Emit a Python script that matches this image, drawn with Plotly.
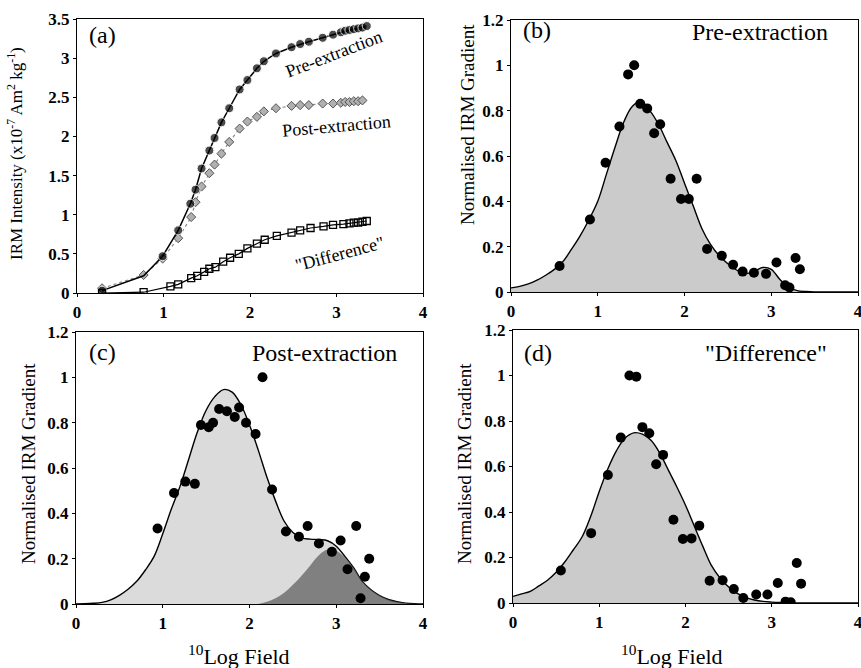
import plotly.graph_objects as go

# ---------------- data ----------------
# Panel (a): IRM acquisition curves
pre_x = [0.29, 0.77, 0.99, 1.17, 1.31, 1.37, 1.44, 1.53, 1.59, 1.67, 1.76, 1.88, 1.97, 2.08, 2.16,
         2.30, 2.48, 2.58, 2.68, 2.84, 2.96, 3.05, 3.10, 3.15, 3.20, 3.25, 3.30, 3.35]
pre_y = [0.03, 0.22, 0.47, 0.80, 1.14, 1.32, 1.59, 1.82, 1.98, 2.18, 2.36, 2.60, 2.72, 2.87, 2.96,
         3.06, 3.14, 3.18, 3.21, 3.26, 3.30, 3.33, 3.35, 3.36, 3.37, 3.38, 3.39, 3.41]
post_x = [0.29, 0.77, 0.99, 1.17, 1.32, 1.37, 1.44, 1.53, 1.59, 1.67, 1.76, 1.88, 1.97, 2.08,
          2.16, 2.30, 2.48, 2.58, 2.68, 2.84, 2.96, 3.05, 3.10, 3.15, 3.20, 3.25, 3.30]
post_y = [0.06, 0.23, 0.44, 0.70, 0.97, 1.16, 1.36, 1.53, 1.64, 1.78, 1.93, 2.10, 2.19, 2.25,
          2.32, 2.36, 2.39, 2.40, 2.40, 2.42, 2.42, 2.43, 2.44, 2.44, 2.45, 2.45, 2.46]
diff_x = [0.29, 0.77, 1.08, 1.17, 1.32, 1.39, 1.47, 1.53, 1.60, 1.69, 1.77, 1.87, 1.97, 2.08,
          2.17, 2.31, 2.48, 2.58, 2.70, 2.85, 2.96, 3.08, 3.15, 3.20, 3.25, 3.30, 3.35]
diff_y = [0.00, 0.01, 0.085, 0.11, 0.19, 0.22, 0.27, 0.31, 0.33, 0.40, 0.45, 0.50, 0.57, 0.63,
          0.68, 0.73, 0.77, 0.80, 0.83, 0.85, 0.87, 0.88, 0.89, 0.90, 0.90, 0.91, 0.92]

# Common grid for the fitted curves (log field)
fit_x = [0.0, 0.1, 0.2, 0.3, 0.4, 0.5, 0.6, 0.7, 0.8, 0.9, 1.0, 1.1, 1.2, 1.3, 1.4, 1.5, 1.6,
         1.7, 1.8, 1.9, 2.0, 2.1, 2.2, 2.3, 2.4, 2.5, 2.6, 2.7, 2.8, 2.9, 3.0, 3.1, 3.2, 3.3,
         3.4, 3.5, 3.6, 3.7, 3.8, 3.9, 4.0]

# Panel (b): pre-extraction gradient
b_pts_x = [0.56, 0.91, 1.09, 1.25, 1.35, 1.42, 1.49, 1.57, 1.65, 1.72, 1.84, 1.96, 2.05, 2.14,
           2.26, 2.43, 2.56, 2.67, 2.80, 2.94, 3.06, 3.16, 3.21, 3.28, 3.33]
b_pts_y = [0.115, 0.32, 0.57, 0.73, 0.96, 1.00, 0.83, 0.81, 0.70, 0.74, 0.50, 0.41, 0.41, 0.50,
           0.19, 0.16, 0.12, 0.09, 0.085, 0.08, 0.13, 0.03, 0.02, 0.15, 0.10]
b_fit = [0.018, 0.025, 0.036, 0.052, 0.074, 0.10, 0.135, 0.19, 0.25, 0.32, 0.40, 0.52, 0.64,
         0.75, 0.82, 0.84, 0.80, 0.74, 0.66, 0.58, 0.48, 0.38, 0.28, 0.21, 0.16, 0.125, 0.097,
         0.082, 0.09, 0.108, 0.10, 0.055, 0.02, 0.006, 0.002, 0.0, 0.0, 0.0, 0.0, 0.0, 0.0]

# Panel (c): post-extraction gradient
c_pts_x = [0.94, 1.13, 1.26, 1.37, 1.44, 1.53, 1.58, 1.65, 1.74, 1.83, 1.88, 1.96, 2.07, 2.15,
           2.26, 2.42, 2.57, 2.67, 2.80, 2.95, 3.05, 3.13, 3.23, 3.28, 3.33, 3.38]
c_pts_y = [0.333, 0.49, 0.54, 0.53, 0.79, 0.78, 0.80, 0.86, 0.85, 0.825, 0.867, 0.80, 0.75, 1.00,
           0.505, 0.32, 0.297, 0.344, 0.267, 0.23, 0.28, 0.153, 0.344, 0.025, 0.12, 0.20]
c_fit = [0.0, 0.001, 0.003, 0.007, 0.018, 0.038, 0.065, 0.10, 0.15, 0.21, 0.31, 0.42, 0.52,
         0.64, 0.76, 0.855, 0.915, 0.946, 0.935, 0.88, 0.79, 0.68, 0.56, 0.455, 0.365, 0.315,
         0.292, 0.286, 0.284, 0.279, 0.255, 0.21, 0.16, 0.10, 0.063, 0.037, 0.02, 0.01, 0.004,
         0.001, 0.0]
c_comp2_x = [2.1, 2.2, 2.3, 2.4, 2.5, 2.6, 2.7, 2.8, 2.9, 3.0, 3.1, 3.2, 3.3, 3.4, 3.5, 3.6,
             3.7, 3.8, 3.9, 4.0]
c_comp2_y = [0.0, 0.01, 0.025, 0.05, 0.085, 0.125, 0.17, 0.215, 0.24, 0.235, 0.205, 0.16, 0.10,
             0.063, 0.037, 0.02, 0.01, 0.004, 0.001, 0.0]

# Panel (d): "difference" gradient
d_pts_x = [0.555, 0.906, 1.10, 1.25, 1.35, 1.43, 1.50, 1.58, 1.66, 1.74, 1.86, 1.97, 2.07, 2.16,
           2.28, 2.43, 2.56, 2.67, 2.82, 2.95, 3.07, 3.16, 3.22, 3.29, 3.34]
d_pts_y = [0.143, 0.307, 0.563, 0.727, 1.00, 0.995, 0.773, 0.746, 0.61, 0.651, 0.366, 0.281,
           0.284, 0.34, 0.098, 0.10, 0.061, 0.022, 0.037, 0.037, 0.088, 0.006, 0.003, 0.176, 0.085]
d_fit = [0.029, 0.04, 0.051, 0.075, 0.10, 0.135, 0.18, 0.234, 0.29, 0.38, 0.49, 0.59, 0.67,
         0.725, 0.748, 0.742, 0.715, 0.66, 0.585, 0.51, 0.43, 0.34, 0.25, 0.165, 0.11, 0.07,
         0.042, 0.024, 0.013, 0.007, 0.004, 0.002, 0.001, 0.0, 0.0, 0.0, 0.0, 0.0, 0.0, 0.0, 0.0]

x_ticks = [0, 1, 2, 3, 4]

# ---------------- figure ----------------
SERIF = "Liberation Serif, Times New Roman, serif"
fig = go.Figure()

# Panel (a)
pre_sizes = [0 if x == 0.77 else 9 for x in pre_x]
fig.add_trace(go.Scatter(x=post_x, y=post_y, mode="lines+markers", xaxis="x", yaxis="y",
                         line=dict(color="#8a8a8a", width=1.2, dash="dot"),
                         marker=dict(symbol="diamond", size=7, color="#b0b0b0",
                                     line=dict(color="#555555", width=1)),
                         showlegend=False))
fig.add_trace(go.Scatter(x=pre_x, y=pre_y, mode="lines+markers", xaxis="x", yaxis="y",
                         line=dict(color="black", width=1.5),
                         marker=dict(symbol="circle", size=pre_sizes, color="black"),
                         showlegend=False))
fig.add_trace(go.Scatter(x=diff_x, y=diff_y, mode="lines+markers", xaxis="x", yaxis="y",
                         line=dict(color="black", width=1.2),
                         marker=dict(symbol="square-open", size=7, color="black",
                                     line=dict(width=1.3)),
                         showlegend=False))

# Panel (b)
fig.add_trace(go.Scatter(x=fit_x, y=b_fit, mode="lines", xaxis="x2", yaxis="y2",
                         line=dict(color="black", width=1.4, shape="spline"),
                         fill="tozeroy", fillcolor="rgba(160,160,160,0.55)", showlegend=False))
fig.add_trace(go.Scatter(x=b_pts_x, y=b_pts_y, mode="markers", xaxis="x2", yaxis="y2",
                         marker=dict(symbol="circle", size=10, color="black"), showlegend=False))

# Panel (c)
fig.add_trace(go.Scatter(x=fit_x, y=c_fit, mode="lines", xaxis="x3", yaxis="y3",
                         line=dict(color="black", width=1.4, shape="spline"),
                         fill="tozeroy", fillcolor="rgba(175,175,175,0.45)", showlegend=False))
fig.add_trace(go.Scatter(x=c_comp2_x, y=c_comp2_y, mode="lines", xaxis="x3", yaxis="y3",
                         line=dict(color="rgba(0,0,0,0)", width=0, shape="spline"),
                         fill="tozeroy", fillcolor="rgba(90,90,90,0.7)", showlegend=False))
fig.add_trace(go.Scatter(x=c_pts_x, y=c_pts_y, mode="markers", xaxis="x3", yaxis="y3",
                         marker=dict(symbol="circle", size=10, color="black"), showlegend=False))

# Panel (d)
fig.add_trace(go.Scatter(x=fit_x, y=d_fit, mode="lines", xaxis="x4", yaxis="y4",
                         line=dict(color="black", width=1.4, shape="spline"),
                         fill="tozeroy", fillcolor="rgba(160,160,160,0.55)", showlegend=False))
fig.add_trace(go.Scatter(x=d_pts_x, y=d_pts_y, mode="markers", xaxis="x4", yaxis="y4",
                         marker=dict(symbol="circle", size=10, color="black"), showlegend=False))

W, H = 861, 668
def px_x(p):
    return p / W
def px_y(p):
    return 1 - p / H

tickfont = dict(family=SERIF, size=17, color="black", weight="bold")
common_x = dict(range=[0, 4], tickvals=x_ticks, showline=True, linecolor="black", linewidth=1.2,
                mirror=True, ticks="outside", ticklen=3, tickcolor="black", showgrid=False,
                zeroline=False, tickfont=tickfont, automargin=False, ticklabeloverflow="allow")
common_y = dict(showline=True, linecolor="black", linewidth=1.2, mirror=True, ticks="outside",
                ticklen=3, tickcolor="black", showgrid=False, zeroline=False, tickfont=tickfont,
                automargin=False, ticklabeloverflow="allow")

fig.update_layout(
    width=W, height=H, margin=dict(l=0, r=0, t=0, b=0),
    paper_bgcolor="white", plot_bgcolor="white",
    xaxis=dict(common_x, domain=[px_x(77), px_x(423)], anchor="y"),
    yaxis=dict(common_y, domain=[px_y(293), px_y(19)], range=[0, 3.5], dtick=0.5, anchor="x"),
    xaxis2=dict(common_x, domain=[px_x(511), px_x(858)], anchor="y2"),
    yaxis2=dict(common_y, domain=[px_y(292), px_y(20)], range=[0, 1.2], dtick=0.2, anchor="x2"),
    xaxis3=dict(common_x, domain=[px_x(76), px_x(423)], anchor="y3"),
    yaxis3=dict(common_y, domain=[px_y(604), px_y(332)], range=[0, 1.2], dtick=0.2, anchor="x3"),
    xaxis4=dict(common_x, domain=[px_x(513), px_x(858)], anchor="y4"),
    yaxis4=dict(common_y, domain=[px_y(603), px_y(330)], range=[0, 1.2], dtick=0.2, anchor="x4"),
)

ann = []
def txt(text, x, y, xr, yr, size, angle=0):
    ann.append(dict(text=text, x=x, y=y, xref=xr, yref=yr, showarrow=False,
                    xanchor="center", yanchor="middle", textangle=angle,
                    font=dict(family=SERIF, size=size, color="black")))

# in-panel labels
txt("(a)", 0.30, 3.30, "x", "y", 24)
txt("Pre-extraction", 2.97, 3.05, "x", "y", 18, -21)
txt("Post-extraction", 3.0, 2.13, "x", "y", 18, -5)
txt("\"Difference\"", 3.03, 0.50, "x", "y", 18, -15)
txt("(b)", 0.30, 1.156, "x2", "y2", 24)
txt("Pre-extraction", 2.87, 1.147, "x2", "y2", 24)
txt("(c)", 0.30, 1.11, "x3", "y3", 24)
txt("Post-extraction", 2.86, 1.107, "x3", "y3", 24)
txt("(d)", 0.29, 1.10, "x4", "y4", 24)
txt("\"Difference\"", 2.93, 1.10, "x4", "y4", 24)

# axis titles
txt("IRM Intensity (x10<sup>-7</sup> Am<sup>2</sup> kg<sup>-1</sup>)", px_x(15), px_y(154), "paper", "paper", 17, -90)
txt("Normalised IRM Gradient", px_x(467), px_y(125), "paper", "paper", 19, -90)
txt("Normalised IRM Gradient", px_x(28), px_y(464), "paper", "paper", 19, -90)
txt("Normalised IRM Gradient", px_x(464), px_y(464), "paper", "paper", 19, -90)
txt("<sup>10</sup>Log Field", px_x(239), px_y(655), "paper", "paper", 22)
txt("<sup>10</sup>Log Field", px_x(672), px_y(655), "paper", "paper", 22)

fig.update_layout(annotations=ann)
fig.write_html("out.html")
